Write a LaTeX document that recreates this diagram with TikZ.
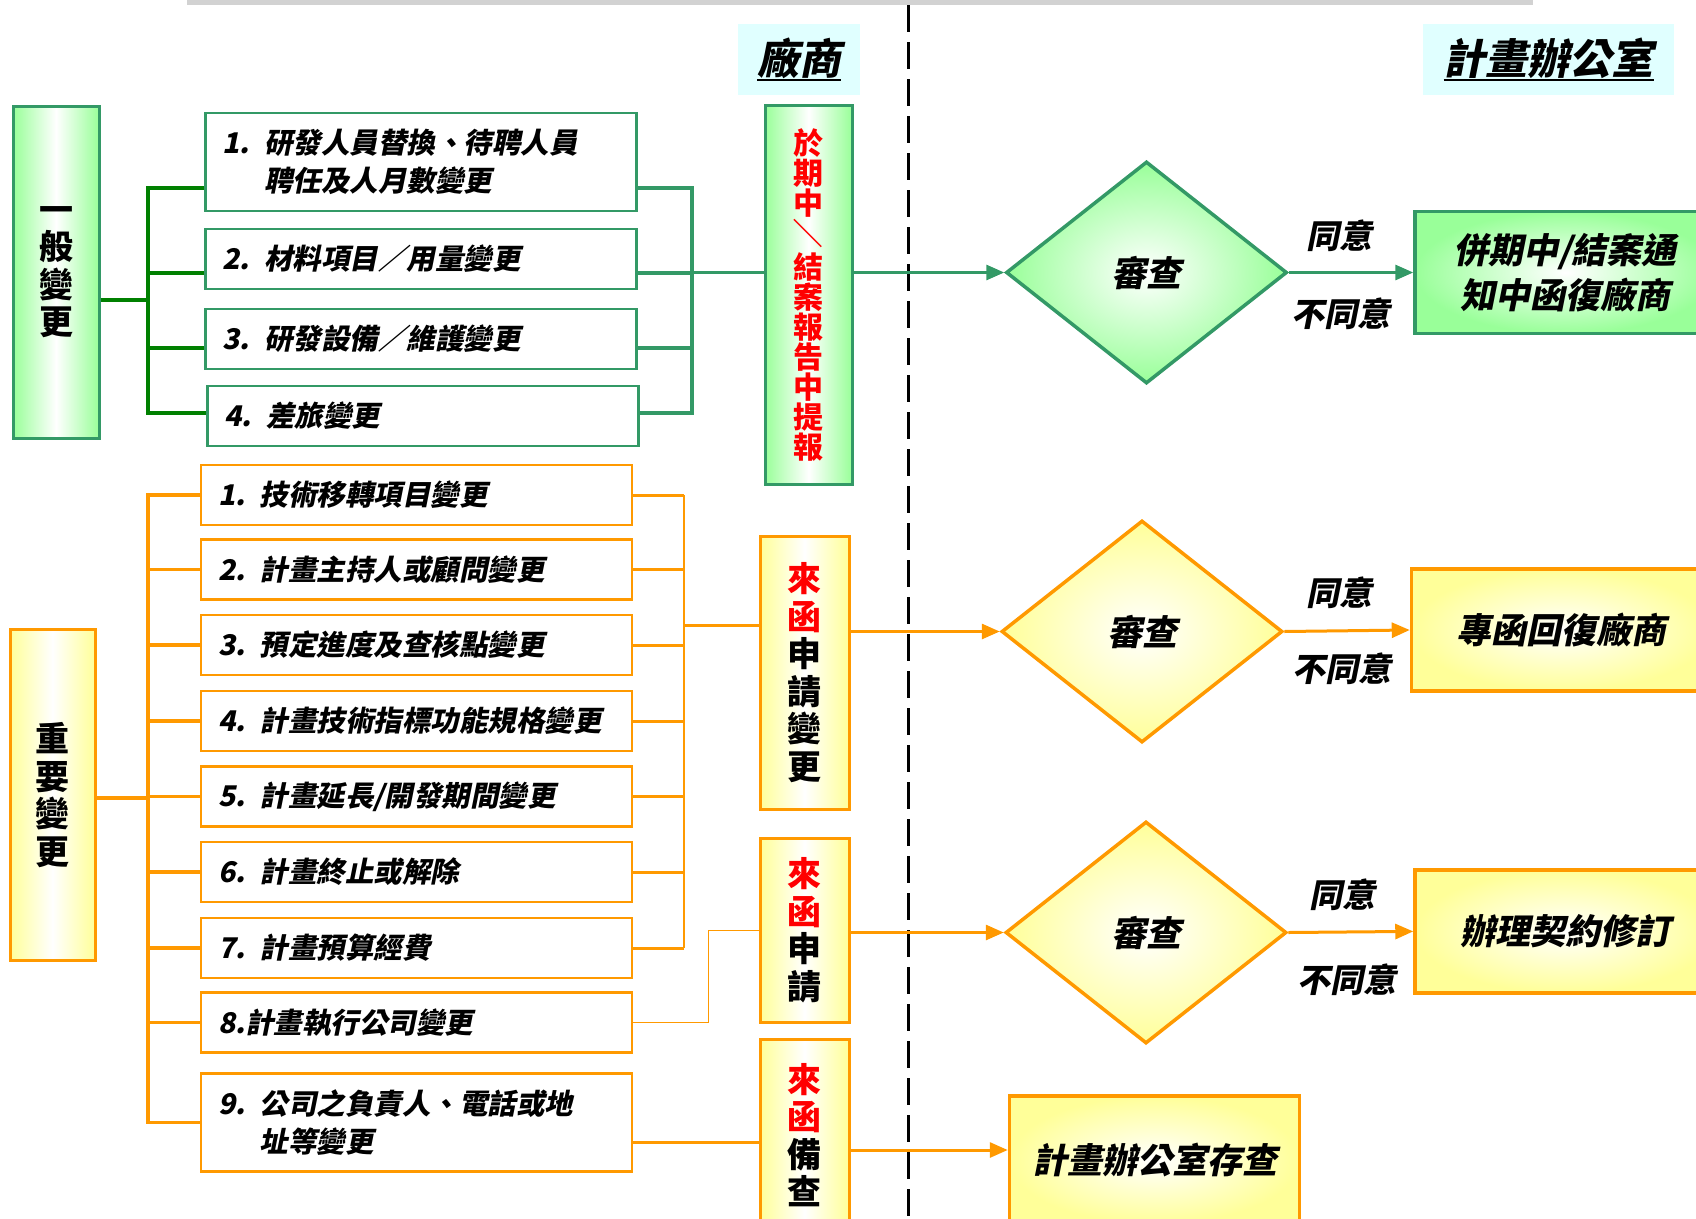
\documentclass[tikz,border=0pt]{standalone}
\usepackage{fontspec}
\setmainfont{Noto Sans CJK TC}[FakeSlant=0.2]
\newfontfamily\kaiup{Noto Sans CJK TC}
\usetikzlibrary{shapes.geometric,arrows.meta}
\definecolor{hdrcyan}{RGB}{224,255,255}
\definecolor{lgreen}{RGB}{153,255,153}
\definecolor{lyellow}{RGB}{255,255,153}
\definecolor{tgreen}{RGB}{51,153,102}
\definecolor{dgreen}{RGB}{0,128,0}
\definecolor{orng}{RGB}{255,153,0}
\newsavebox{\hdrbox}
\newcommand{\hdrline}[1]{\sbox{\hdrbox}{#1}\rlap{\rule[-7pt]{\wd\hdrbox}{2.5pt}}\usebox{\hdrbox}}

\begin{document}
\begin{tikzpicture}[x=1pt, y=-1pt,
    hdr/.style={fill=hdrcyan, minimum height=71pt, font=\fontsize{42}{46}\selectfont\bfseries},
    item/.style={draw=#1, line width=2.5pt, fill=white, text width=397pt, inner xsep=17pt, inner ysep=0pt, align=left, minimum height=60pt, font=\fontsize{28.5}{38}\selectfont\bfseries},
    vbox/.style={draw=#1, line width=3pt, inner sep=0pt, minimum width=87pt, align=center, font=\kaiup\fontsize{34}{37.5}\selectfont\bfseries},
    gvbox/.style={vbox=tgreen, left color=lgreen, right color=lgreen, middle color=white},
    yvbox/.style={vbox=orng, left color=lyellow, right color=lyellow, middle color=white},
    chk/.style={diamond, draw=#1, line width=3.5pt, minimum width=281pt, minimum height=222pt, inner sep=0pt, font=\fontsize{35}{40}\selectfont\bfseries},
    gchk/.style={chk=tgreen, inner color=white, outer color=lgreen},
    ychk/.style={chk=orng, inner color=white, outer color=lyellow},
    res/.style={draw=#1, line width=3.5pt, align=center, minimum height=122pt, font=\fontsize{35}{45}\selectfont\bfseries},
    gres/.style={res=tgreen, inner color=white, outer color=lgreen},
    yres/.style={res=orng, inner color=white, outer color=lyellow},
    lbl/.style={font=\fontsize{33}{36}\selectfont\bfseries},
    arr/.style={line width=3pt, -{Triangle[length=18pt, width=15pt]}},
  ]
  \useasboundingbox (0,0) rectangle (1696,1218);
  \clip (0,0) rectangle (1696,1218);

  % top bar and lane divider
  \fill[gray!35] (187,0) rectangle (1533,4.5);
  \draw[line width=3pt, dash pattern=on 27pt off 10pt] (908,5) -- (908,1230);

  % lane headers
  \node[hdr, minimum width=122pt] (VH) at (799,59.5) {\hdrline{廠商}};
  \node[hdr, minimum width=251pt] (OH) at (1548.5,59.5) {\hdrline{計畫辦公室}};

  % general changes
  \node[gvbox, minimum width=86pt, minimum height=332pt] (GA) at (56,272) {一\\般\\變\\更};
  \node[item=tgreen, minimum height=98pt] (G1) at (421,162) {1. 研發人員替換、待聘人員\\\hphantom{1. }聘任及人月數變更};
  \node[item=tgreen] (G2) at (421,259) {2. 材料項目／用量變更};
  \node[item=tgreen] (G3) at (421,339) {3. 研發設備／維護變更};
  \node[item=tgreen] (G4) at (423,416) {4. 差旅變更};
  \node[gvbox, minimum height=379pt, text=red, font=\kaiup\fontsize{30}{30}\selectfont\bfseries] (GR) at (808.5,295)
    {於\\期\\中\\\rotatebox{90}{／}\\結\\案\\報\\告\\中\\提\\報};
  \node[gchk] (D1) at (1146.5,272.5) {審查};
  \node[gres, minimum width=300pt] (R1) at (1565,272.5) {併期中/結案通\\知中函復廠商};
  \node[lbl] (A1) at (1339,236) {同意};
  \node[lbl] (N1) at (1341,314) {不同意};

  \coordinate (GL) at (148,300);
  \coordinate (GX) at (692,272.5);
  \draw[dgreen, line width=4pt] (GA.east |- GL) -- (GL);
  \draw[dgreen, line width=4pt] (G1.west |- 0,188) -- (GL |- 0,188) -- (GL |- 0,413) -- (G4.west |- 0,413);
  \draw[dgreen, line width=4pt] (GL |- 0,272.5) -- (G2.west |- 0,272.5) (GL |- 0,348) -- (G3.west |- 0,348);
  \draw[tgreen, line width=4pt] (G1.east |- 0,188) -- (GX |- 0,188) -- (GX |- 0,413) -- (G4.east |- 0,413);
  \draw[tgreen, line width=4pt] (G2.east |- GX) -- (GX) (G3.east |- 0,348) -- (GX |- 0,348);
  \draw[tgreen, line width=3pt] (GX) -- (GR.west |- GX);
  \draw[arr, tgreen] (GR.east |- D1.west) -- (D1.west);
  \draw[arr, tgreen] (D1.east) -- (R1.west);

  % major changes
  \node[yvbox, minimum width=85pt, minimum height=331pt] (YA) at (52.5,795) {重\\要\\變\\更};
  \node[item=orng] (O1) at (416.5,495) {1. 技術移轉項目變更};
  \node[item=orng] (O2) at (416.5,569.5) {2. 計畫主持人或顧問變更};
  \node[item=orng] (O3) at (416.5,645) {3. 預定進度及查核點變更};
  \node[item=orng] (O4) at (416.5,721) {4. 計畫技術指標功能規格變更};
  \node[item=orng] (O5) at (416.5,796.5) {5. 計畫延長/開發期間變更};
  \node[item=orng] (O6) at (416.5,872) {6. 計畫終止或解除};
  \node[item=orng] (O7) at (416.5,948) {7. 計畫預算經費};
  \node[item=orng] (O8) at (416.5,1022.5) {8.計畫執行公司變更};
  \node[item=orng, minimum height=98pt] (O9) at (416.5,1122.5) {9. 公司之負責人、電話或地\\\hphantom{9. }址等變更};
  \node[yvbox, minimum width=89pt, minimum height=273pt] (Y5) at (804.5,672.5)
    {\textcolor{red}{來}\\\textcolor{red}{函}\\申\\請\\變\\更};
  \node[yvbox, minimum width=89pt, minimum height=184pt] (Y6) at (804.5,930)
    {\textcolor{red}{來}\\\textcolor{red}{函}\\申\\請};
  \node[yvbox, minimum width=89pt, minimum height=192pt] (Y7) at (804.5,1135)
    {\textcolor{red}{來}\\\textcolor{red}{函}\\備\\查};
  \node[ychk] (D2) at (1142,631.5) {審查};
  \node[yres, minimum width=300pt] (R2) at (1561.5,630) {專函回復廠商};
  \node[lbl] (A2) at (1339,592.4) {同意};
  \node[lbl] (N2) at (1341.5,668.6) {不同意};
  \node[ychk] (D3) at (1146,932.5) {審查};
  \node[yres, minimum width=300pt, minimum height=123pt] (R3) at (1565,931.4) {辦理契約修訂};
  \node[lbl] (A3) at (1342.6,894.5) {同意};
  \node[lbl] (N3) at (1346.8,979.5) {不同意};
  \node[yres, minimum width=290pt, minimum height=128pt] (R4) at (1154.5,1160) {計畫辦公室存查};

  \coordinate (YL) at (148,798);
  \coordinate (YR) at (684,625.8);
  \coordinate (YK) at (708.5,930);
  \coordinate (YN) at (700,1142);
  \coordinate (YM) at (900,1150);
  \draw[orng, line width=3.5pt] (YA.east |- YL) -- (YL);
  \draw[orng, line width=3.5pt] (O1.west) -- (O1.west -| YL) -- (O9.west -| YL) -- (O9.west);
  \draw[orng, line width=3.5pt] (O2.west) -- (O2.west -| YL) (O3.west) -- (O3.west -| YL)
    (O4.west) -- (O4.west -| YL) (O5.west) -- (O5.west -| YL) (O6.west) -- (O6.west -| YL)
    (O7.west) -- (O7.west -| YL) (O8.west) -- (O8.west -| YL);
  \draw[orng, line width=3pt] (O1.east) -- (O1.east -| YR) (O2.east) -- (O2.east -| YR)
    (O3.east) -- (O3.east -| YR) (O4.east) -- (O4.east -| YR) (O5.east) -- (O5.east -| YR)
    (O6.east) -- (O6.east -| YR) (O7.east) -- (O7.east -| YR);
  \draw[orng, line width=1.5pt] (O1.east -| YR) -- (O7.east -| YR);
  \draw[orng, line width=3pt] (YR) -- (YR -| Y5.west);
  \draw[orng, line width=1pt] (O8.east) -- (O8.east -| YK) -- (YK) -- (YK -| Y6.west);
  \draw[orng, line width=3pt] (O9.east |- YN) -- (YN -| Y7.west);
  \draw[arr, orng] (Y5.east |- D2.west) -- (D2.west);
  \draw[arr, orng] (D2.east) -- (R2.west);
  \draw[arr, orng] (Y6.east |- D3.west) -- (D3.west);
  \draw[arr, orng] (D3.east) -- (R3.west);
  \draw[arr, orng] (Y7.east |- YM) -- (YM -| R4.west);
\end{tikzpicture}
\end{document}
